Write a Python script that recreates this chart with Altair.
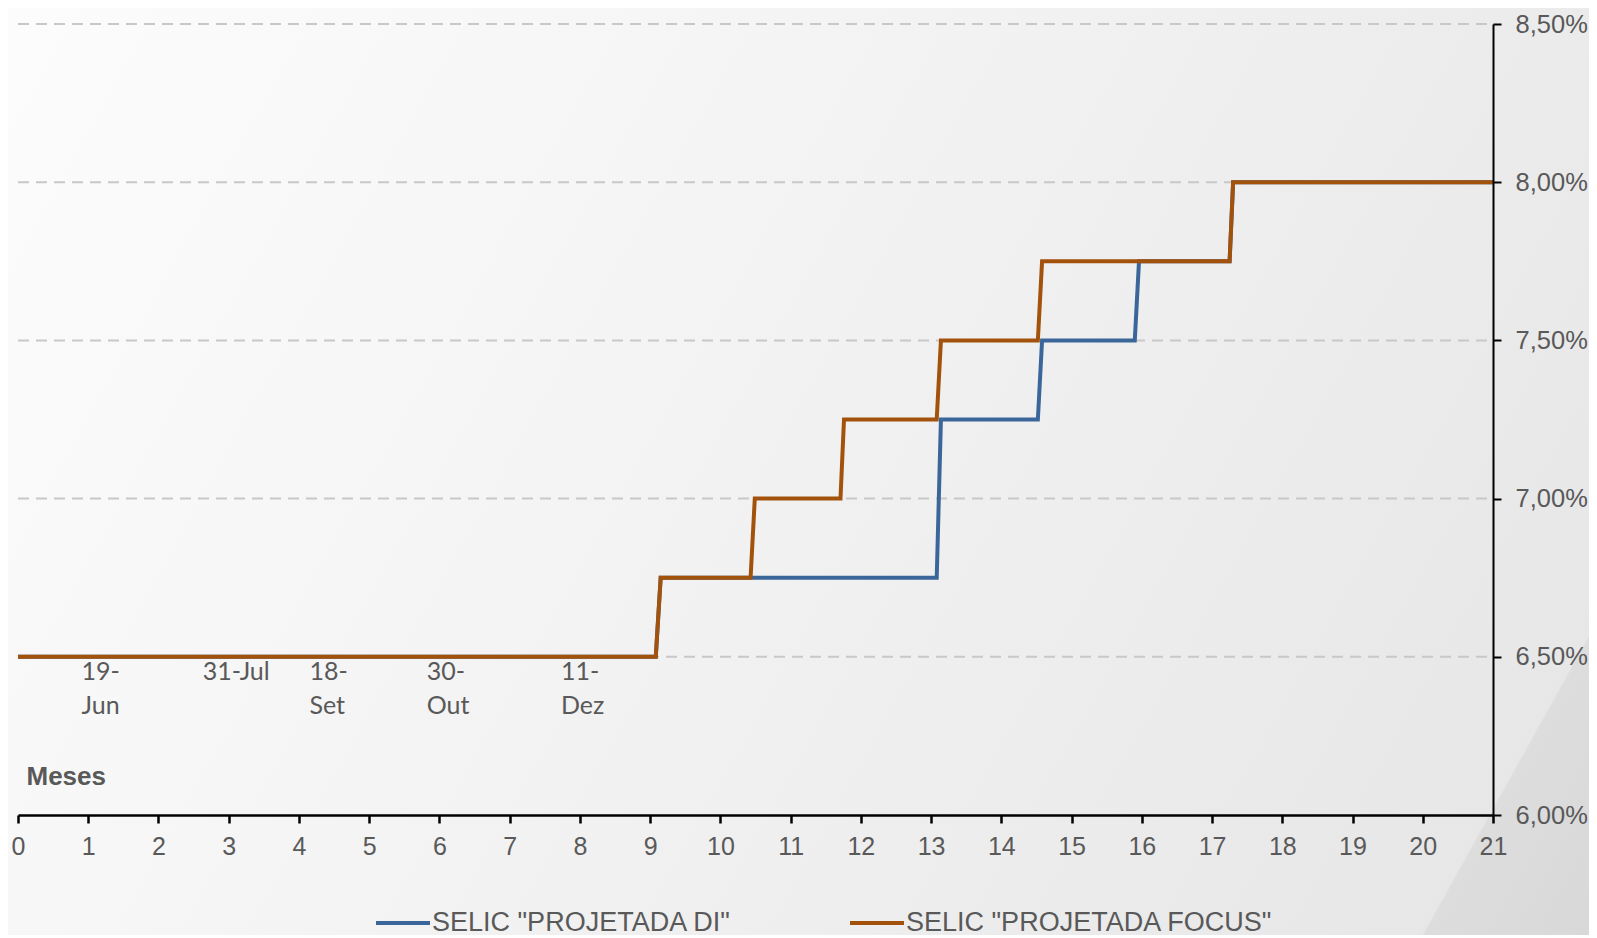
import altair as alt
import pandas as pd

# ---------------- data ----------------
serie_di = 'SELIC "PROJETADA DI"'
serie_focus = 'SELIC "PROJETADA FOCUS"'

di_mes = [0, 9.08, 9.15, 13.08, 13.14, 14.52, 14.58, 15.90, 15.96, 17.25, 17.30, 21]
di_selic = [6.50, 6.50, 6.75, 6.75, 7.25, 7.25, 7.50, 7.50, 7.75, 7.75, 8.00, 8.00]

focus_mes = [0, 9.08, 9.15, 10.43, 10.49, 11.71, 11.76, 13.08, 13.14, 14.52, 14.58, 17.25, 17.30, 21]
focus_selic = [6.50, 6.50, 6.75, 6.75, 7.00, 7.00, 7.25, 7.25, 7.50, 7.50, 7.75, 7.75, 8.00, 8.00]

x_ticks = list(range(0, 22))
y_ticks = [6.0, 6.5, 7.0, 7.5, 8.0, 8.5]
grid_values = [6.5, 7.0, 7.5, 8.0, 8.5]

data_label_mes = [0.904, 2.63, 4.15, 5.82, 7.73]
data_label_line1 = ["19-", "31-Jul", "18-", "30-", "11-"]
data_label_line2 = ["Jun", "", "Set", "Out", "Dez"]
data_label_y1 = 6.4525
data_label_y2 = 6.345

# ---------------- tables ----------------
rows = []
for i, (x, y) in enumerate(zip(di_mes, di_selic)):
    rows.append({"mes": x, "selic": y, "serie": serie_di, "ordem": i})
for i, (x, y) in enumerate(zip(focus_mes, focus_selic)):
    rows.append({"mes": x, "selic": y, "serie": serie_focus, "ordem": i})
df = pd.DataFrame(rows)

lab_rows = []
for x, a, b in zip(data_label_mes, data_label_line1, data_label_line2):
    lab_rows.append({"mes": x, "selic": data_label_y1, "txt": a})
    if b:
        lab_rows.append({"mes": x, "selic": data_label_y2, "txt": b})
df_lab = pd.DataFrame(lab_rows)
df_grid = pd.DataFrame({"v": grid_values})

W, H = 1475, 791
PAD = {"left": 10, "top": 16, "right": 96, "bottom": 120}
GRAY = "#595959"
BLUE = "#3B6699"
BROWN = "#A3520C"
FONT = "Liberation Sans"

xscale = alt.Scale(domain=[0, 21], nice=False, zero=False)
yscale = alt.Scale(domain=[6.0, 8.5], nice=False, zero=False)

# background (decorative gradient incl. corner triangle)
bg = alt.Chart(alt.Data(values=[{}])).mark_rect(
    fill=alt.LinearGradient(
        gradient="linear",
        x1=0, y1=0, x2=1.199, y2=0.391,
        stops=[
            alt.GradientStop(offset=0, color="#FCFCFC"),
            alt.GradientStop(offset=0.3, color="#F6F6F6"),
            alt.GradientStop(offset=0.92, color="#E7E7E8"),
            alt.GradientStop(offset=0.921, color="#DDDDDE"),
            alt.GradientStop(offset=1, color="#D8D8D9"),
        ],
    ),
    strokeWidth=0,
).encode(
    x=alt.value(-PAD["left"]),
    x2=alt.value(W + PAD["right"]),
    y=alt.value(-PAD["top"]),
    y2=alt.value(H + PAD["bottom"]),
)

grid = alt.Chart(df_grid).mark_rule(
    color="#C8C8C8", strokeWidth=2, strokeDash=[11, 7]
).encode(
    y=alt.Y("v:Q", scale=yscale),
    x=alt.value(0),
    x2=alt.value(W),
)

lines = alt.Chart(df).mark_line(strokeWidth=4).encode(
    x=alt.X(
        "mes:Q",
        scale=xscale,
        axis=alt.Axis(
            values=x_ticks,
            format="d",
            grid=False,
            domainColor="black",
            domainWidth=2.5,
            tickColor="black",
            tickWidth=2.5,
            tickSize=8,
            labelFont=FONT,
            labelFontSize=25,
            labelColor=GRAY,
            labelPadding=11,
            labelFlush=False,
            labelOverlap=False,
            title="Meses",
            titleFont=FONT,
            titleFontSize=26,
            titleFontWeight="bold",
            titleColor=GRAY,
            titleAnchor="start",
            titleAlign="left",
            titleBaseline="alphabetic",
            titleX=8,
            titleY=-31,
            zindex=1,
        ),
    ),
    y=alt.Y(
        "selic:Q",
        scale=yscale,
        axis=alt.Axis(
            orient="right",
            values=y_ticks,
            grid=False,
            domainColor="black",
            domainWidth=2,
            tickColor="black",
            tickWidth=2,
            tickSize=8,
            labelFont=FONT,
            labelFontSize=25.5,
            labelColor=GRAY,
            labelPadding=14,
            labelExpr="replace(format(datum.value, '.2f'), '.', ',') + '%'",
            title=None,
            zindex=1,
        ),
    ),
    color=alt.Color(
        "serie:N",
        scale=alt.Scale(domain=[serie_di, serie_focus], range=[BLUE, BROWN]),
        legend=alt.Legend(
            orient="none",
            legendX=356,
            legendY=870,
            direction="horizontal",
            title=None,
            symbolType="stroke",
            symbolSize=2916,
            symbolStrokeWidth=4,
            labelFont=FONT,
            labelFontSize=27,
            labelColor=GRAY,
            labelOffset=0,
            labelLimit=600,
            columnPadding=110,
        ),
    ),
    order="ordem:Q",
)

labels = alt.Chart(df_lab).mark_text(
    align="left", baseline="middle", font="Lato", fontSize=25, color=GRAY
).encode(
    x=alt.X("mes:Q", scale=xscale),
    y=alt.Y("selic:Q", scale=yscale),
    text="txt:N",
)

chart = (
    alt.layer(bg, grid, lines, labels)
    .properties(width=W, height=H, padding=PAD, autosize="none")
    .configure_view(strokeWidth=0)
)

chart.save("out.html", embed_options={"renderer": "svg", "actions": False})
